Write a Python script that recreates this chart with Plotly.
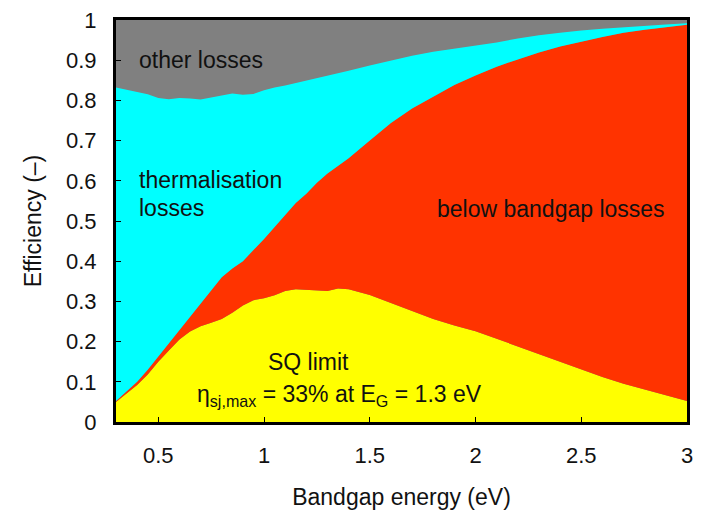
import plotly.graph_objects as go

# Bandgap energy grid (eV)
energy = [0.3, 0.35, 0.4, 0.45, 0.5, 0.55, 0.6, 0.65, 0.7, 0.75, 0.8, 0.85, 0.9, 0.95,
          1.0, 1.05, 1.1, 1.15, 1.2, 1.25, 1.3, 1.35, 1.4, 1.5, 1.6, 1.7, 1.8, 1.9,
          2.0, 2.1, 2.2, 2.3, 2.4, 2.5, 2.6, 2.7, 2.8, 2.9, 3.0]

# Upper boundary of SQ-limit efficiency (yellow)
sq_limit = [0.050, 0.070, 0.092, 0.118, 0.150, 0.178, 0.205, 0.225, 0.238, 0.247, 0.256,
            0.272, 0.290, 0.303, 0.308, 0.315, 0.326, 0.330, 0.329, 0.327, 0.326, 0.332,
            0.330, 0.316, 0.296, 0.277, 0.256, 0.240, 0.226, 0.207, 0.188, 0.168, 0.149,
            0.130, 0.112, 0.095, 0.081, 0.066, 0.052]

# Cumulative upper boundary of below-bandgap losses (red)
below_bandgap_top = [0.052, 0.075, 0.100, 0.130, 0.163, 0.196, 0.228, 0.262, 0.297, 0.330,
                     0.360, 0.382, 0.400, 0.428, 0.455, 0.485, 0.515, 0.545, 0.568, 0.595,
                     0.618, 0.638, 0.656, 0.700, 0.744, 0.780, 0.810, 0.838, 0.862, 0.884,
                     0.902, 0.919, 0.934, 0.946, 0.958, 0.968, 0.976, 0.982, 0.988]

# Cumulative upper boundary of thermalisation losses (cyan)
thermalisation_top = [0.832, 0.826, 0.820, 0.815, 0.806, 0.803, 0.806, 0.805, 0.802, 0.807,
                      0.813, 0.817, 0.814, 0.816, 0.825, 0.832, 0.837, 0.843, 0.849, 0.855,
                      0.861, 0.867, 0.874, 0.887, 0.899, 0.911, 0.921, 0.929, 0.937, 0.944,
                      0.954, 0.962, 0.968, 0.974, 0.978, 0.982, 0.986, 0.989, 0.992]

x_tick_vals = [0.5, 1, 1.5, 2, 2.5, 3]
x_tick_text = ["0.5", "1", "1.5", "2", "2.5", "3"]
y_tick_vals = [0, 0.1, 0.2, 0.3, 0.4, 0.5, 0.6, 0.7, 0.8, 0.9, 1]
y_tick_text = ["0", "0.1", "0.2", "0.3", "0.4", "0.5", "0.6", "0.7", "0.8", "0.9", "1"]

FONT = "Liberation Sans"
TXT = "#111111"

fig = go.Figure()
fig.add_trace(go.Scatter(x=energy, y=sq_limit, mode="lines", fill="tozeroy",
                         fillcolor="#FFFF00", line=dict(width=0, color="#FFFF00"),
                         name="SQ limit", hoverinfo="skip"))
fig.add_trace(go.Scatter(x=energy, y=below_bandgap_top, mode="lines", fill="tonexty",
                         fillcolor="#FF3300", line=dict(width=0, color="#FF3300"),
                         name="below bandgap losses", hoverinfo="skip"))
fig.add_trace(go.Scatter(x=energy, y=thermalisation_top, mode="lines", fill="tonexty",
                         fillcolor="#00FFFF", line=dict(width=0, color="#00FFFF"),
                         name="thermalisation losses", hoverinfo="skip"))

def note(text, x, y, size=23, family=FONT):
    fig.add_annotation(x=x, y=y, xref="x", yref="y", text=text, showarrow=False,
                       xanchor="left", yanchor="middle",
                       font=dict(family=family, size=size, color=TXT))

note("other losses", 0.398, 0.901)
note("thermalisation", 0.398, 0.601)
note("losses", 0.398, 0.532)
note("below bandgap losses", 1.807, 0.530)
note("SQ limit", 1.007, 0.150)
note("η<sub>sj,max</sub> = 33% at E<sub>G</sub> = 1.3 eV", 0.674, 0.066, size=23)

fig.update_layout(
    width=701, height=515,
    margin=dict(l=116, r=8, t=17, b=92),
    paper_bgcolor="white",
    plot_bgcolor="#808080",
    showlegend=False,
    font=dict(family=FONT, color=TXT, size=22),
)
fig.update_xaxes(range=[0.3, 3], tickvals=x_tick_vals, ticktext=x_tick_text,
                 showgrid=False, zeroline=False, showline=True, linecolor="black",
                 linewidth=3, mirror=True, ticks="inside", ticklen=5, tickcolor="black",
                 tickfont=dict(size=22, family=FONT, color=TXT), ticklabelstandoff=12,
                 title=dict(text="Bandgap energy (eV)", font=dict(size=23, family=FONT, color=TXT),
                            standoff=22))
fig.update_yaxes(range=[0, 1], tickvals=y_tick_vals, ticktext=y_tick_text,
                 showgrid=False, zeroline=False, showline=True, linecolor="black",
                 linewidth=3, mirror=True, ticks="inside", ticklen=5, tickcolor="black",
                 tickfont=dict(size=22, family=FONT, color=TXT), ticklabelstandoff=12,
                 title=dict(text="Efficiency (–)", font=dict(size=23, family=FONT, color=TXT),
                            standoff=18))

fig.write_html("out.html")
